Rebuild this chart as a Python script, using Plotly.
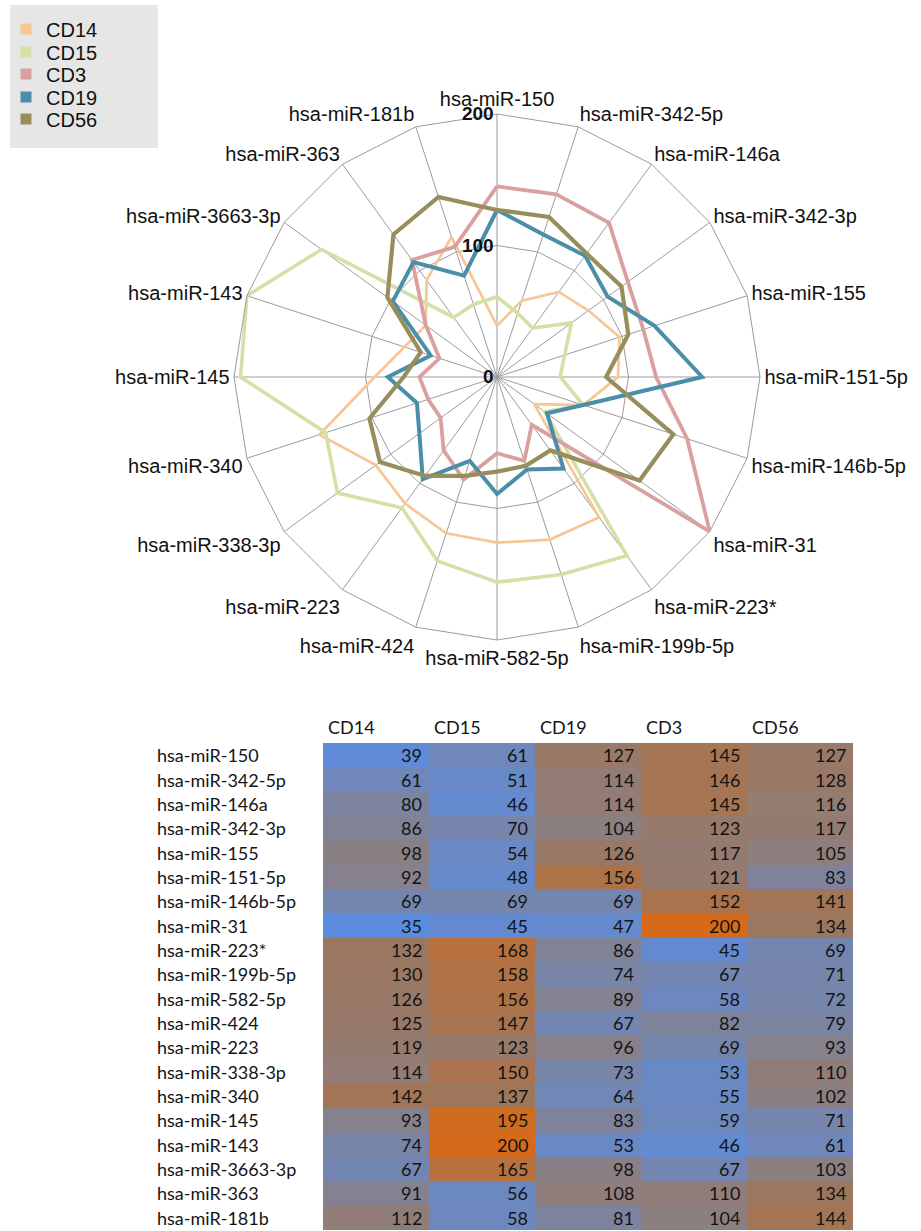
import plotly.graph_objects as go

mirnas = ["hsa-miR-150", "hsa-miR-342-5p", "hsa-miR-146a", "hsa-miR-342-3p", "hsa-miR-155",
          "hsa-miR-151-5p", "hsa-miR-146b-5p", "hsa-miR-31", "hsa-miR-223*", "hsa-miR-199b-5p",
          "hsa-miR-582-5p", "hsa-miR-424", "hsa-miR-223", "hsa-miR-338-3p", "hsa-miR-340",
          "hsa-miR-145", "hsa-miR-143", "hsa-miR-3663-3p", "hsa-miR-363", "hsa-miR-181b"]

cd14 = [39, 61, 80, 86, 98, 92, 69, 35, 132, 130, 126, 125, 119, 114, 142, 93, 74, 67, 91, 112]
cd15 = [61, 51, 46, 70, 54, 48, 69, 45, 168, 158, 156, 147, 123, 150, 137, 195, 200, 165, 56, 58]
cd19 = [127, 114, 114, 104, 126, 156, 69, 47, 86, 74, 89, 67, 96, 73, 64, 83, 53, 98, 108, 81]
cd3 = [145, 146, 145, 123, 117, 121, 152, 200, 45, 67, 58, 82, 69, 53, 55, 59, 46, 67, 110, 104]
cd56 = [127, 128, 116, 117, 105, 83, 141, 134, 69, 71, 72, 79, 93, 110, 102, 71, 61, 103, 134, 144]

radar_series = [("CD14", cd14), ("CD15", cd15), ("CD3", cd3), ("CD19", cd19), ("CD56", cd56)]
legend_order = ["CD14", "CD15", "CD3", "CD19", "CD56"]
table_cols = ["CD14", "CD15", "CD19", "CD3", "CD56"]
table_vals = [cd14, cd15, cd19, cd3, cd56]
radial_ticks = [0, 100, 200]

colors = {"CD14": "#F8C594", "CD15": "#D3E0A6", "CD3": "#D9A09F", "CD19": "#4B8EA9", "CD56": "#978E5C"}
widths = {"CD14": 2.7, "CD15": 3.6, "CD3": 3.8, "CD19": 4.0, "CD56": 4.2}

W, H = 921, 1231
fig = go.Figure()

for name, vals in radar_series:
    fig.add_trace(go.Scatterpolar(
        r=vals + vals[:1], theta=mirnas + mirnas[:1], mode="lines", name=name,
        line=dict(color=colors[name], width=widths[name]), showlegend=False,
        legendgroup=name, hoverinfo="skip"))

legend_ys = [29, 52, 74, 97, 119]
legend_layouts = {}
for k, name in enumerate(legend_order):
    lname = "legend" if k == 0 else f"legend{k + 1}"
    fig.add_trace(go.Scatterpolar(
        r=[None], theta=[mirnas[0]], mode="markers", name=name, legendgroup=name,
        legend=lname, marker=dict(symbol="square", size=11, color=colors[name]),
        showlegend=True))
    legend_layouts[lname] = dict(x=6 / W, y=1 - legend_ys[k] / H, xanchor="left",
                                 yanchor="middle", bgcolor="rgba(0,0,0,0)",
                                 font=dict(size=20, color="#111"), itemwidth=30)

# heatmap table
z = [[table_vals[j][i] for j in range(5)] for i in range(20)]
colorscale = [[0.0, "rgb(92,140,222)"], [0.39, "rgb(138,128,132)"], [0.62, "rgb(158,118,92)"],
              [1.0, "rgb(212,106,26)"]]
fig.add_trace(go.Heatmap(z=z, x=list(range(5)), y=list(range(20)), colorscale=colorscale,
                         zmin=35, zmax=200, showscale=False, xaxis="x2", yaxis="y2",
                         hoverinfo="skip", xgap=0, ygap=0))

annotations = []
tfont = dict(family="Lato, Carlito, sans-serif", size=18, color="#141414")
for i, m in enumerate(mirnas):
    annotations.append(dict(xref="paper", yref="y2", x=155 / W, y=i, text=m, showarrow=False,
                            xanchor="left", yanchor="middle", font=tfont))
    for j in range(5):
        annotations.append(dict(xref="x2", yref="y2", x=j + 0.5, y=i, text=str(table_vals[j][i]),
                                showarrow=False, xanchor="right", yanchor="middle", xshift=-5,
                                font=tfont))
for j, c in enumerate(table_cols):
    annotations.append(dict(xref="x2", yref="paper", x=j - 0.5, y=1 - 727 / H, text=c,
                            showarrow=False, xanchor="left", yanchor="middle", xshift=3,
                            font=tfont))

grid = "#9c9c9c"
fig.update_layout(
    width=W, height=H, margin=dict(l=0, r=0, t=0, b=0),
    paper_bgcolor="white", plot_bgcolor="white",
    font=dict(family="Liberation Sans, Arial, sans-serif", color="#111"),
    polar=dict(
        domain=dict(x=[234 / W, 760 / W], y=[1 - 640 / H, 1 - 114 / H]),
        gridshape="linear", bgcolor="white",
        radialaxis=dict(range=[0, 200], tickvals=radial_ticks, angle=90, side="counterclockwise",
                        showline=False, gridcolor=grid, gridwidth=1, ticks="", tickangle=90,
                        tickfont=dict(size=19, color="#111", weight="bold")),
        angularaxis=dict(type="category", categoryarray=mirnas, direction="clockwise",
                         rotation=90, gridcolor=grid, gridwidth=1, showline=True,
                         linecolor=grid, linewidth=1, ticks="",
                         tickfont=dict(size=20, color="#111"))),
    xaxis2=dict(domain=[323 / W, 853 / W], range=[-0.5, 4.5], visible=False, anchor="y2"),
    yaxis2=dict(domain=[0, 1 - 743 / H], range=[19.55, -0.5], visible=False, anchor="x2"),
    showlegend=True,
    shapes=[dict(type="rect", xref="paper", yref="paper", x0=10 / W, x1=158 / W,
                 y0=1 - 148 / H, y1=1 - 5 / H, fillcolor="#E6E6E6", line=dict(width=0),
                 layer="below")],
    annotations=annotations,
    **legend_layouts,
)

fig.write_html("out.html", config={"displayModeBar": False},
               post_script="document.body.style.margin='0px';")
